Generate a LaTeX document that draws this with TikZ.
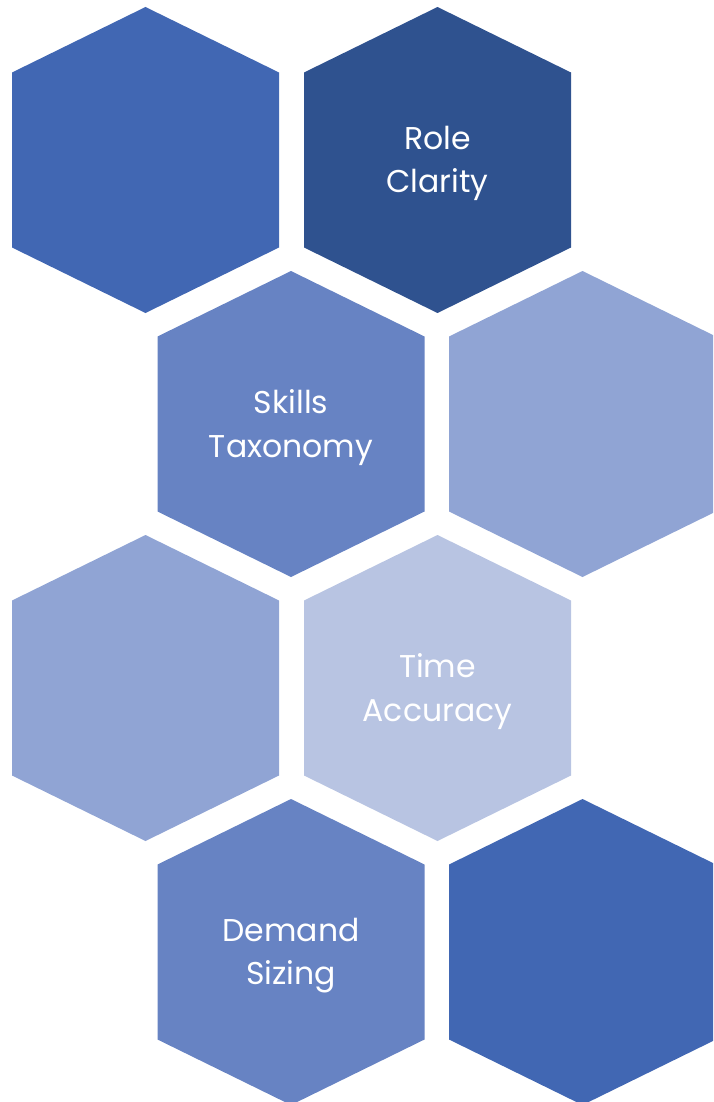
\documentclass[tikz,border=0pt]{standalone}
\usepackage{fontspec}
\setmainfont{Poppins}
\definecolor{cMid}{HTML}{4167B3}
\definecolor{cDark}{HTML}{2F528F}
\definecolor{cSoft}{HTML}{6783C3}
\definecolor{cLight}{HTML}{90A4D4}
\definecolor{cPale}{HTML}{B8C4E2}
\tikzset{
  hexlabel/.style={text=white, align=center, font=\fontsize{31.5}{43.5}\selectfont, inner sep=0pt}
}
\newcommand\hexcell[4]{% name, cx, cy, colour
  \coordinate (#1) at (#2,#3);
  \fill[#4] ($(#1)+(0,-153)$) -- ($(#1)+(133.5,-87.5)$) -- ($(#1)+(133.5,87.5)$)
    -- ($(#1)+(0,153)$) -- ($(#1)+(-133.5,87.5)$) -- ($(#1)+(-133.5,-87.5)$) -- cycle;
}
\usetikzlibrary{calc}
\begin{document}
\begin{tikzpicture}[x=1pt,y=-1pt]
\useasboundingbox (0,0) rectangle (713,1102);
\begin{scope}
\clip (0,0) rectangle (713,1102);
\hexcell{h1}{145.5}{160}{cMid}
\hexcell{h2}{437.5}{160}{cDark}
\hexcell{h3}{291}{424}{cSoft}
\hexcell{h4}{582.5}{424}{cLight}
\hexcell{h5}{145.5}{688}{cLight}
\hexcell{h6}{437.5}{688}{cPale}
\hexcell{h7}{291}{952}{cSoft}
\hexcell{h8}{582.5}{952}{cMid}
\end{scope}
\node[hexlabel] (t2) at (437.5,163.5) {Role\\Clarity};
\node[hexlabel] (t3) at (291,427.5) {Skills\\Taxonomy};
\node[hexlabel] (t6) at (437.5,691.5) {Time\\Accuracy};
\node[hexlabel] (t7) at (291,955.5) {Demand\\Sizing};
\end{tikzpicture}
\end{document}
